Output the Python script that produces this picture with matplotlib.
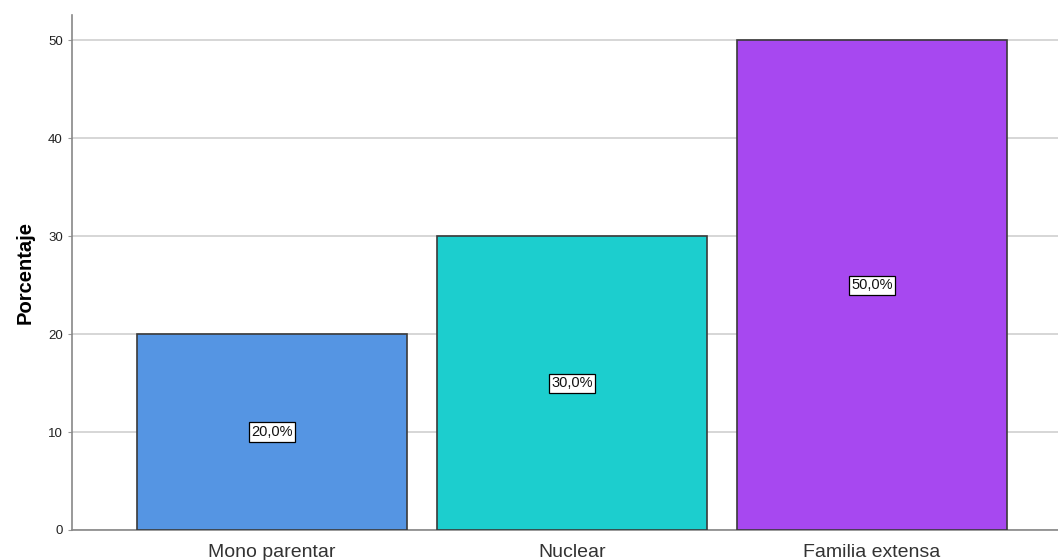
import matplotlib
matplotlib.use("Agg")
import matplotlib.pyplot as plt

categories = ["Mono parentar", "Nuclear", "Familia extensa"]
percentages = [20.0, 30.0, 50.0]
bar_colors = ["#5595e3", "#1ccece", "#a748f0"]
y_ticks = [0, 10, 20, 30, 40, 50]

plt.rcParams["font.family"] = ["Liberation Sans", "DejaVu Sans"]

fig = plt.figure(figsize=(10.58, 5.6), dpi=100)
ax = fig.add_axes([0.068, 0.0536, 0.932, 0.9196])

x = range(len(categories))
ax.bar(x, percentages, width=0.9, color=bar_colors, edgecolor="#3a3a3a",
       linewidth=1.2, zorder=3)

for xi, v in zip(x, percentages):
    ax.text(xi, v / 2, f"{v:.1f}%".replace(".", ","), ha="center", va="center",
            fontsize=10.5, color="#111111", zorder=4,
            bbox=dict(boxstyle="square,pad=0.18", facecolor="white",
                      edgecolor="black", linewidth=0.9))

ax.set_xlim(-0.667, 2.62)
ax.set_ylim(0, 52.6)
ax.set_yticks(y_ticks)
ax.set_xticks(list(x))
ax.set_xticklabels(categories, fontsize=14, color="#333333")
ax.tick_params(axis="y", labelsize=9.5, length=3, color="#999999", labelcolor="#222222")
ax.tick_params(axis="x", length=0, pad=10)
ax.yaxis.grid(True, color="#cfcfcf", linewidth=1.2, zorder=0)
ax.set_axisbelow(True)

for side in ["top", "right"]:
    ax.spines[side].set_visible(False)
for side in ["left", "bottom"]:
    ax.spines[side].set_color("#888888")
    ax.spines[side].set_linewidth(1.2)

ax.set_ylabel("Porcentaje", fontsize=14.5, fontweight="bold", labelpad=10)

fig.savefig("out.png", dpi=100)
